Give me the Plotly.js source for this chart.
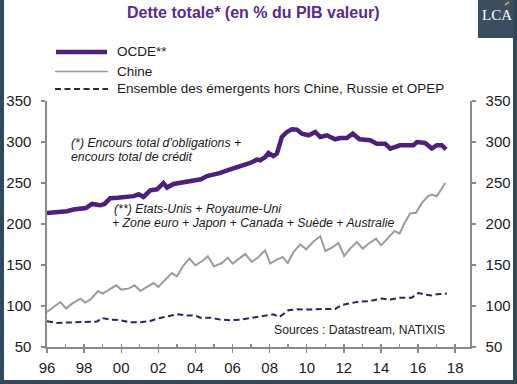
<!DOCTYPE html>
<html>
<head>
<meta charset="utf-8">
<script src="https://cdn.plot.ly/plotly-3.0.1.min.js"></script>
<style>
html,body{margin:0;padding:0;background:#fff;}
#wrap{position:relative;width:517px;height:384px;overflow:hidden;}
#chart{width:517px;height:384px;}
#frame{position:absolute;left:0;top:0;width:517px;height:384px;box-sizing:border-box;border-left:4px solid #33475a;border-right:4px solid #33475a;border-bottom:4px solid #33475a;pointer-events:none;}
</style>
</head>
<body>
<div id="wrap"><div id="chart"></div><div id="frame"></div></div>
<script>
// ---- Data ----
const ocdeYears = [1996.0,1996.5,1997.08,1997.43,1997.8,1998.1,1998.42,1998.87,1999.1,1999.41,1999.8,2000.2,2000.67,2000.94,2001.2,2001.57,2001.93,2002.28,2002.47,2002.82,2003.2,2003.54,2004.0,2004.3,2004.62,2004.98,2005.3,2005.88,2006.42,2006.96,2007.31,2007.49,2007.76,2007.94,2008.2,2008.39,2008.66,2008.93,2009.2,2009.47,2009.74,2010.1,2010.46,2010.73,2011.09,2011.53,2011.8,2012.16,2012.48,2012.85,2013.42,2013.78,2014.23,2014.5,2015.03,2015.75,2015.94,2016.38,2016.74,2017.01,2017.28,2017.51];
const ocdeValues = [213.5,214.3,215.5,217.6,218.5,219.5,224.5,222.8,224.5,231.5,232.0,232.9,234.0,236.2,233.0,241.1,242.3,249.8,244.4,248.8,250.0,251.5,253.5,254.5,258.5,260.0,262.0,266.5,270.5,274.4,278.5,277.7,281.7,286.6,282.9,285.8,306.1,312.2,315.5,315.1,310.2,308.2,312.2,306.1,308.2,303.3,304.9,304.9,310.2,303.3,302.1,298.0,298.0,292.0,296.0,296.0,300.0,298.8,292.0,296.0,296.0,291.1];

const chinaYears = [1996.0,1996.72,1997.04,1997.35,1997.8,1998.06,1998.33,1998.75,1999.0,1999.32,1999.73,2000.0,2000.4,2000.72,2001.03,2001.39,2001.75,2002.0,2002.37,2002.73,2003.0,2003.36,2003.68,2004.0,2004.35,2004.67,2005.0,2005.43,2005.75,2006.0,2006.36,2006.68,2007.04,2007.4,2007.76,2008.03,2008.39,2008.71,2008.98,2009.29,2009.65,2009.97,2010.33,2010.73,2011.0,2011.36,2011.71,2012.02,2012.34,2012.7,2013.02,2013.38,2013.74,2014.01,2014.4,2014.73,2015.0,2015.3,2015.57,2015.9,2016.2,2016.53,2016.74,2017.01,2017.46];
const chinaValues = [92.7,104.9,96.8,102.9,109.0,104.1,107.8,118.3,115.1,119.1,125.2,120.0,121.2,125.2,118.3,123.2,128.0,123.2,131.3,140.2,136.2,149.6,157.8,149.6,154.5,160.6,148.4,152.4,159.0,151.7,157.8,163.5,153.7,159.8,167.9,151.7,156.5,159.8,152.4,165.9,175.2,169.1,178.0,185.0,167.1,171.2,176.9,161.0,170.0,178.0,170.0,176.9,182.2,174.0,183.4,191.5,188.3,202.4,212.7,213.9,225.6,233.8,235.8,233.8,250.0];

const emYears = [1996.0,1996.54,1997.43,1998.15,1998.7,1998.96,1999.41,1999.95,2000.49,2001.03,2001.57,2001.93,2002.47,2003.0,2003.54,2004.0,2004.26,2004.8,2005.34,2005.88,2006.42,2006.95,2007.67,2008.2,2008.53,2009.01,2009.47,2010.28,2010.82,2011.53,2011.9,2012.7,2013.42,2014.05,2014.5,2015.03,2015.66,2016.02,2016.38,2016.74,2017.01,2017.55];
const emValues = [81.3,79.3,80.1,81.0,81.0,85.4,83.4,82.6,80.1,80.1,81.7,84.6,87.4,89.9,88.3,88.3,85.8,85.8,83.4,82.6,83.4,85.2,87.8,89.9,86.6,94.8,96.0,95.6,96.4,96.4,101.2,104.9,106.1,109.0,107.8,110.2,110.2,115.9,113.9,112.7,114.3,115.1];

const seriesNames = ["OCDE**", "Chine", "Ensemble des émergents hors Chine, Russie et OPEP"];
const yTicks = [50,100,150,200,250,300,350];
const xMajorVals = [1996,1998,2000,2002,2004,2006,2008,2010,2012,2014,2016,2018];
const xMajorText = ["96","98","00","02","04","06","08","10","12","14","16","18"];
const xAllYears = [1996,1997,1998,1999,2000,2001,2002,2003,2004,2005,2006,2007,2008,2009,2010,2011,2012,2013,2014,2015,2016,2017,2018];

// ---- Styling ----
const OCDE_C = "#4f1f7c", CHINA_C = "#9b9b9b", EM_C = "#3a1d5c";
const AX_C = "#8a8a8a", TXT_C = "#1a1a1a";
const FONT = "Liberation Sans, Arial, sans-serif";
const W = 517, H = 384, L = 47, R = 47, T = 101, B = 37;
const pw = W - L - R, ph = H - T - B;
const px = x => (x - L) / pw;         // pixel -> paper x
const py = y => (H - B - y) / ph;     // pixel -> paper y

const xAllText = xAllYears.map(y => { const i = xMajorVals.indexOf(y); return i >= 0 ? xMajorText[i] : ""; });
const xRange = [1996, 2018.8];

const traces = [
  {x: ocdeYears, y: ocdeValues, name: seriesNames[0], type: "scatter", mode: "lines",
   line: {color: OCDE_C, width: 4.5}, xaxis: "x", yaxis: "y"},
  {x: chinaYears, y: chinaValues, name: seriesNames[1], type: "scatter", mode: "lines",
   line: {color: CHINA_C, width: 2}, xaxis: "x2", yaxis: "y"},
  {x: emYears, y: emValues, name: seriesNames[2], type: "scatter", mode: "lines",
   line: {color: EM_C, width: 2, dash: "6px,3.5px"}, xaxis: "x", yaxis: "y2"}
];

const axBase = {showgrid: false, zeroline: false, showline: true, linecolor: AX_C, linewidth: 1.6,
  tickcolor: AX_C, tickwidth: 1.4, tickfont: {family: FONT, size: 15, color: TXT_C}};

const legY = [52, 71.5, 89];
const shapes = [
  {type: "line", xref: "paper", yref: "paper", x0: px(56), x1: px(107), y0: py(legY[0]), y1: py(legY[0]), line: {color: OCDE_C, width: 4.5}},
  {type: "line", xref: "paper", yref: "paper", x0: px(55), x1: px(108), y0: py(legY[1]), y1: py(legY[1]), line: {color: CHINA_C, width: 1.6}},
  {type: "line", xref: "paper", yref: "paper", x0: px(55), x1: px(108), y0: py(legY[2]), y1: py(legY[2]), line: {color: EM_C, width: 2, dash: "6px,3.5px"}},
  {type: "rect", xref: "paper", yref: "paper", x0: px(478), x1: px(520), y0: py(38), y1: py(-3), fillcolor: "#3c4d60", line: {width: 0}},
  {type: "line", xref: "paper", yref: "paper", x0: px(505), x1: px(509), y0: py(5), y1: py(2), line: {color: "#e8c33a", width: 1.5}}
];

const ann = (x, y, text, size, opts) => Object.assign({xref: "paper", yref: "paper", x: px(x), y: py(y), text: text,
  showarrow: false, xanchor: "left", yanchor: "middle", font: {family: FONT, size: size, color: TXT_C}}, opts || {});

const annotations = [
  ann(253, 12, "<b>Dette totale* (en % du PIB valeur)</b>", 16, {xanchor: "center", font: {family: FONT, size: 16, color: "#5a2b8a"}}),
  ann(115, legY[0], seriesNames[0], 13.5),
  ann(115, legY[1], seriesNames[1], 13.5),
  ann(115, legY[2], seriesNames[2], 13.5),
  ann(69, 143, "<i>(*) Encours total d'obligations +</i>", 12.3),
  ann(69, 157, "<i>encours total de crédit</i>", 12.3),
  ann(112, 209, "<i>(**) Etats-Unis + Royaume-Uni</i>", 12.3),
  ann(110, 223, "<i>+ Zone euro + Japon + Canada + Suède + Australie</i>", 12.3),
  ann(272, 330, "Sources : Datastream, NATIXIS", 12.2),
  ann(497, 15, "LCA", 15, {xanchor: "center", font: {family: "Liberation Serif, DejaVu Serif, serif", size: 15, color: "#ffffff"}})
];

const layout = {
  width: W, height: H, margin: {l: L, r: R, t: T, b: B, pad: 0},
  paper_bgcolor: "#ffffff", plot_bgcolor: "#ffffff", showlegend: false,
  xaxis: Object.assign({}, axBase, {range: xRange, tickmode: "array", tickvals: xAllYears, ticktext: xAllText,
    ticks: "inside", ticklen: 3.5, ticklabelstandoff: 6}),
  xaxis2: Object.assign({}, axBase, {range: xRange, overlaying: "x", anchor: "y", side: "bottom", tickmode: "array",
    tickvals: xMajorVals, ticktext: xMajorText, ticks: "outside", ticklen: 4, showticklabels: false}),
  yaxis: Object.assign({}, axBase, {range: [50, 350], tickmode: "array", tickvals: yTicks, ticks: "outside", ticklen: 4, ticklabelstandoff: 7}),
  yaxis2: Object.assign({}, axBase, {range: [50, 350], overlaying: "y", side: "right", anchor: "x", tickmode: "array", tickvals: yTicks, ticks: "outside", ticklen: 4, ticklabelstandoff: 7}),
  shapes: shapes, annotations: annotations
};

Plotly.newPlot("chart", traces, layout, {displayModeBar: false, staticPlot: true});
</script>
</body>
</html>
